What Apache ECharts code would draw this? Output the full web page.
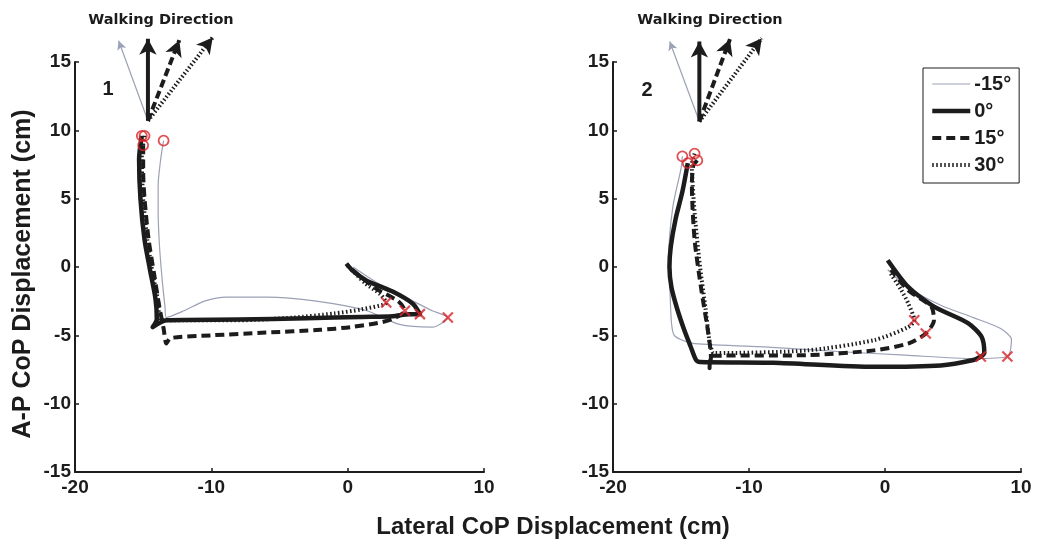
<!DOCTYPE html>
<html><head><meta charset="utf-8">
<script src="https://cdn.jsdelivr.net/npm/echarts@6/dist/echarts.min.js"></script>
<style>html,body{margin:0;padding:0;background:#fff}#c{width:1039px;height:546px}</style>
</head><body><div id="c"></div>
<script>
// ---------- data ----------
const seriesNames = ['-15°', '0°', '15°', '30°'];
const panelLabels = ['1', '2'];
const xRange = [-20, 10, 10];   // min, max, interval
const yRange = [-15, 15, 5];

// Panel 1 trajectories [lateral, A-P] (cm)
const p1Minus15 = [[-13.5,9.25],[-13.7,8.0],[-13.9,6.0],[-13.9,4.0],[-13.8,1.5],[-13.6,-1.0],[-13.4,-2.9],[-13.3,-3.7],[-12.0,-3.2],[-10.5,-2.5],[-8.9,-2.2],[-5.9,-2.2],[-2.3,-2.5],[1.4,-3.2],[3.8,-4.2],[6.2,-4.4],[7.35,-3.7],[6.2,-3.2],[4.6,-2.4],[2.4,-1.3],[0.4,0.0]];
const p1Zero = [[-15.1,9.6],[-15.3,7.9],[-15.2,5.0],[-14.9,2.0],[-14.5,-0.2],[-14.1,-2.3],[-14.0,-3.8],[-14.3,-4.4],[-13.3,-3.9],[-8.0,-3.85],[-3.0,-3.75],[1.0,-3.65],[3.3,-3.6],[4.5,-3.45],[5.3,-3.45],[4.8,-2.7],[3.3,-1.8],[1.4,-1.0],[0.4,-0.3],[-0.1,0.25]];
const p1Plus15 = [[-15.0,8.9],[-15.0,7.0],[-14.9,5.0],[-14.6,2.0],[-14.2,-0.5],[-13.8,-3.0],[-13.5,-4.5],[-13.3,-5.6],[-13.0,-5.2],[-10.0,-5.0],[-6.0,-4.8],[-2.0,-4.6],[0.2,-4.4],[2.2,-4.1],[3.3,-3.8],[4.2,-3.2],[3.7,-2.5],[2.1,-1.6],[0.8,-0.6],[0.0,0.1]];
const p1Plus30 = [[-14.9,9.6],[-15.1,8.0],[-15.0,5.0],[-14.7,2.0],[-14.3,-0.5],[-13.9,-2.5],[-13.7,-3.9],[-12.0,-3.9],[-8.0,-3.9],[-4.0,-3.7],[-1.0,-3.4],[1.0,-3.1],[2.83,-2.6],[2.4,-2.0],[1.3,-1.2],[0.3,-0.2]];
const p1Crosses = [[7.35,-3.7],[5.3,-3.45],[4.2,-3.2],[2.83,-2.6]];

// Panel 2 trajectories
const p2Minus15 = [[-14.9,8.1],[-15.0,7.2],[-15.6,4.4],[-15.9,0.75],[-15.8,-2.0],[-15.7,-4.1],[-15.5,-5.0],[-14.8,-5.4],[-14.0,-5.6],[-8.0,-5.9],[-3.2,-6.2],[1.5,-6.45],[6.5,-6.7],[9.0,-6.55],[9.3,-5.3],[8.5,-4.5],[6.5,-3.7],[4.1,-2.8],[1.7,-1.5],[0.2,-0.2]];
const p2Zero = [[-14.5,7.6],[-14.9,5.5],[-15.4,3.5],[-15.75,1.5],[-15.85,0.0],[-15.7,-1.5],[-15.3,-3.0],[-14.8,-4.5],[-14.3,-5.8],[-13.9,-6.8],[-13.6,-6.95],[-8.2,-7.0],[-0.8,-7.3],[4.1,-7.2],[6.5,-6.8],[7.05,-6.55],[7.3,-6.3],[7.1,-5.1],[6.1,-4.1],[3.6,-2.9],[1.7,-1.45],[0.2,0.5]];
const p2Plus15 = [[-13.8,7.8],[-14.1,7.4],[-14.2,6.0],[-14.0,2.0],[-13.5,-1.7],[-13.0,-4.8],[-12.8,-6.6],[-12.9,-7.4],[-12.7,-6.5],[-5.7,-6.45],[-0.8,-6.1],[1.7,-5.6],[3.0,-4.86],[3.6,-3.9],[3.4,-2.9],[1.7,-1.7],[0.45,-0.2]];
const p2Plus30 = [[-14.0,8.3],[-14.2,7.5],[-14.0,4.0],[-13.6,0.0],[-13.2,-3.0],[-12.9,-5.5],[-12.7,-6.2],[-12.6,-6.3],[-5.7,-6.1],[-0.8,-5.35],[1.7,-4.4],[2.15,-3.9],[1.7,-2.65],[1.2,-1.7],[0.4,-0.45]];
const p2Crosses = [[9.0,-6.55],[7.05,-6.55],[3.0,-4.86],[2.15,-3.9]];

// Walking direction arrows (origin and arrow-head centres, data units)
const p1ArrowOrigin = [-14.65, 10.7];
const p1ArrowTips = [[-16.8,16.55],[-14.65,16.7],[-12.35,16.6],[-9.9,16.8]];
const p2ArrowOrigin = [-13.65, 10.65];
const p2ArrowTips = [[-15.83,16.5],[-13.65,16.5],[-11.4,16.67],[-9.06,16.74]];

// ---------- styles ----------
const FONT = '"Liberation Sans", Arial, sans-serif';
const INK = '#1c1c1c';
const GREY = '#9ba1b6';
const RED = '#d8262b';
const lineStyles = [
  {color: GREY, width: 1.2, type: 'solid'},
  {color: INK, width: 4.5, type: 'solid'},
  {color: INK, width: 4, type: [9, 5]},
  {color: INK, width: 4, type: [1.5, 2.5]}
];
const arrowStyles = [
  {color: GREY, width: 1.2, type: 'solid'},
  {color: INK, width: 4, type: 'solid'},
  {color: INK, width: 4, type: [8, 4]},
  {color: INK, width: 4, type: [1.5, 2.2]}
];
const arrowSizes = [[7, 9], [13, 16], [13, 16], [13, 16]];
const zOrder = [2, 5, 4, 3];

const panels = [
  {traj: [p1Minus15, p1Zero, p1Plus15, p1Plus30], crosses: p1Crosses, origin: p1ArrowOrigin, tips: p1ArrowTips},
  {traj: [p2Minus15, p2Zero, p2Plus15, p2Plus30], crosses: p2Crosses, origin: p2ArrowOrigin, tips: p2ArrowTips}
];

const series = [];
panels.forEach((p, pi) => {
  p.traj.forEach((d, si) => {
    series.push({
      type: 'line', name: seriesNames[si], xAxisIndex: pi, yAxisIndex: pi,
      data: d, symbol: 'none', smooth: 0.25, z: zOrder[si],
      color: lineStyles[si].color,
      lineStyle: Object.assign({cap: 'butt', join: 'round'}, lineStyles[si]),
      animation: false, silent: true
    });
  });
  // arrows
  p.tips.forEach((t, si) => {
    const dx = t[0] - p.origin[0], dy = t[1] - p.origin[1];
    const ang = Math.atan2(dx, dy) * 180 / Math.PI;
    series.push({
      type: 'line', name: 'dir' + pi + '_' + si, xAxisIndex: pi, yAxisIndex: pi,
      clip: false, smooth: false, z: 6, animation: false, silent: true,
      symbol: 'none', showSymbol: true, showAllSymbol: true,
      color: arrowStyles[si].color,
      lineStyle: Object.assign({cap: 'butt'}, arrowStyles[si]),
      itemStyle: {color: arrowStyles[si].color},
      data: [
        {value: p.origin, symbol: 'none'},
        {value: t, symbol: 'arrow', symbolSize: arrowSizes[si], symbolRotate: -ang, symbolKeepAspect: false}
      ]
    });
  });
  // start circles
  series.push({
    type: 'scatter', name: 'start' + pi, xAxisIndex: pi, yAxisIndex: pi, z: 10,
    data: p.traj.map(d => d[0]), symbol: 'circle', symbolSize: 10,
    itemStyle: {color: 'rgba(0,0,0,0)', borderColor: RED, borderWidth: 1.8},
    animation: false, silent: true
  });
  // end crosses
  series.push({
    type: 'scatter', name: 'cross' + pi, xAxisIndex: pi, yAxisIndex: pi, z: 10,
    data: p.crosses, symbol: 'path://M0,0L10,10M10,0L0,10', symbolSize: 10,
    itemStyle: {color: 'rgba(0,0,0,0)', borderColor: RED, borderWidth: 2.2},
    animation: false, silent: true
  });
});

function xAxis(i) {
  return {
    type: 'value', gridIndex: i, min: xRange[0], max: xRange[1], interval: xRange[2],
    splitLine: {show: false},
    axisLine: {onZero: false, lineStyle: {color: INK, width: 2}},
    axisTick: {inside: true, length: 4, lineStyle: {color: INK, width: 1.5}},
    axisLabel: {fontSize: 19, fontWeight: 'bold', fontFamily: FONT, color: INK, margin: 6}
  };
}
function yAxis(i) {
  return {
    type: 'value', gridIndex: i, min: yRange[0], max: yRange[1], interval: yRange[2],
    splitLine: {show: false},
    axisLine: {onZero: false, lineStyle: {color: INK, width: 2}},
    axisTick: {inside: true, length: 4, lineStyle: {color: INK, width: 1.5}},
    axisLabel: {fontSize: 19, fontWeight: 'bold', fontFamily: FONT, color: INK, margin: 4}
  };
}

const textStyle = (txt, x, y, size, family, rot) => ({
  type: 'text', x: x, y: y, rotation: rot || 0, silent: true,
  style: {text: txt, fontSize: size, fontWeight: 'bold', fontFamily: family, fill: INK, align: 'center', verticalAlign: 'middle'}
});

const chart = echarts.init(document.getElementById('c'), null, {renderer: 'canvas'});
chart.setOption({
  backgroundColor: '#fff',
  animation: false,
  grid: [
    {left: 75, top: 62, width: 409, height: 410},
    {left: 613, top: 62, width: 408, height: 410}
  ],
  xAxis: [xAxis(0), xAxis(1)],
  yAxis: [yAxis(0), yAxis(1)],
  legend: {
    data: seriesNames.map((n, i) => ({
      name: n,
      lineStyle: {width: lineStyles[i].width, type: lineStyles[i].type, color: lineStyles[i].color, cap: 'butt'}
    })),
    orient: 'vertical', left: 923, top: 68,
    padding: [6, 8, 8, 7], itemWidth: 38, itemHeight: 14, itemGap: 7,
    borderColor: INK, borderWidth: 1, backgroundColor: '#fff',
    selectedMode: false,
    itemStyle: {opacity: 0},
    textStyle: {fontSize: 20, fontWeight: 'bold', fontFamily: FONT, color: INK, padding: [0, 0, 0, -1]}
  },
  graphic: [
    textStyle('Walking Direction', 161, 20, 14.5, '"DejaVu Sans", sans-serif'),
    textStyle('Walking Direction', 710, 20, 14.5, '"DejaVu Sans", sans-serif'),
    textStyle(panelLabels[0], 108, 89, 20, FONT),
    textStyle(panelLabels[1], 647, 90, 20, FONT),
    textStyle('A-P CoP Displacement (cm)', 23, 274, 25, FONT, Math.PI / 2),
    textStyle('Lateral CoP Displacement (cm)', 553, 527, 24, FONT)
  ],
  series: series
});
</script>
</body></html>
